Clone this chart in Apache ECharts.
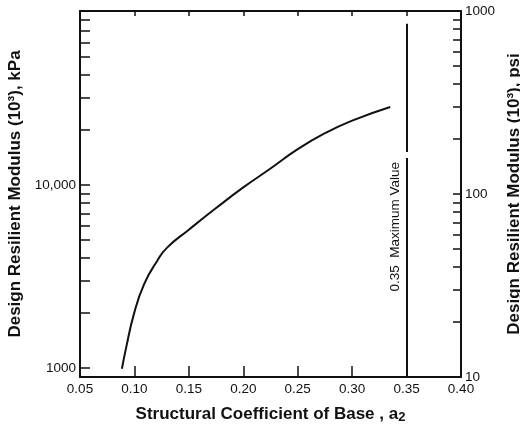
<!DOCTYPE html>
<html>
<head>
<meta charset="utf-8">
<script src="https://cdn.jsdelivr.net/npm/echarts@6/dist/echarts.min.js"></script>
<style>
  html, body { margin: 0; padding: 0; background: #fff; }
  #chart { width: 520px; height: 428px; }
</style>
</head>
<body>
<div id="chart"></div>
<script>
  // structural coefficient a2 vs design resilient modulus (kPa)
  var coef = [0.0885, 0.0925, 0.0995, 0.109, 0.121, 0.13, 0.15, 0.175, 0.20, 0.225, 0.25, 0.275, 0.30, 0.335]
  var modulus = [990, 1300, 1970, 2880, 3860, 4550, 5700, 7480, 9700, 12300, 15700, 19200, 22500, 26700]

  // 0.35 maximum value line, split where the scan shows a small break
  var maxCoef = 0.35
  var maxLineLow = [893, 14050]
  var maxLineHigh = [15150, 76000]

  var xTicks = [0.10, 0.15, 0.20, 0.25, 0.30, 0.35]
  var kpaLabels = [1000, 10000]
  var kpaTicks = [1000, 2000, 3000, 4000, 5000, 6000, 7000, 8000, 9000,
    10000, 20000, 30000, 40000, 50000, 60000, 70000, 80000]
  var psiLabels = [10, 100, 1000]
  var psiTicks = [20, 30, 40, 50, 60, 70, 80, 90, 100, 200, 300, 400, 500, 600, 700, 800, 900]

  var font = 'Liberation Sans'
  var titleSize = 17
  var chart = echarts.init(document.getElementById('chart'))
  chart.setOption({
    animation: false,
    grid: {
      left: 80,
      right: 59,
      top: 11,
      bottom: 51,
      outerBoundsMode: 'none'
    },
    xAxis: [
      {
        type: 'value',
        position: 'bottom',
        min: 0.05,
        max: 0.40,
        interval: 0.05,
        name: 'Structural Coefficient of Base , a{sub|2}',
        nameLocation: 'middle',
        nameGap: 27,
        nameTextStyle: {
          color: '#111',
          fontFamily: font,
          fontWeight: 'bold',
          fontSize: titleSize,
          rich: {
            sub: { fontSize: 13, fontWeight: 'bold', fontFamily: font, color: '#111', verticalAlign: 'bottom', padding: [7, 0, 0, 0] }
          }
        },
        splitLine: { show: false },
        axisLine: { lineStyle: { color: '#111', width: 2 } },
        axisTick: { inside: true, length: 11, customValues: xTicks, lineStyle: { color: '#111', width: 1.5 } },
        axisLabel: {
          color: '#111',
          fontFamily: font,
          fontSize: 13.5,
          margin: 5,
          formatter: function (v) { return v.toFixed(2) }
        }
      },
      {
        type: 'value',
        position: 'top',
        min: 0.05,
        max: 0.40,
        interval: 0.05,
        splitLine: { show: false },
        axisLine: { lineStyle: { color: '#111', width: 2 } },
        axisTick: { inside: true, length: 5, customValues: xTicks, lineStyle: { color: '#111', width: 1.5 } },
        axisLabel: { show: false }
      }
    ],
    yAxis: [
      {
        type: 'log',
        position: 'left',
        min: 893,
        max: 89300,
        name: 'Design Resilient Modulus (10³), kPa',
        nameLocation: 'middle',
        nameGap: 54,
        nameTextStyle: { color: '#111', fontFamily: font, fontWeight: 'bold', fontSize: titleSize },
        splitLine: { show: false },
        axisLine: { show: true, lineStyle: { color: '#111', width: 2 } },
        axisTick: { inside: true, length: 10, customValues: kpaTicks, lineStyle: { color: '#111', width: 1.5 } },
        axisLabel: {
          customValues: kpaLabels,
          color: '#111',
          fontFamily: font,
          fontSize: 13.5,
          margin: 4,
          formatter: function (v) { return v === 10000 ? '10,000' : String(v) }
        }
      },
      {
        type: 'log',
        position: 'right',
        min: 10,
        max: 1000,
        name: 'Design Resilient Modulus (10³), psi',
        nameLocation: 'middle',
        nameGap: 31,
        nameTextStyle: { color: '#111', fontFamily: font, fontWeight: 'bold', fontSize: titleSize },
        splitLine: { show: false },
        axisLine: { show: true, lineStyle: { color: '#111', width: 2 } },
        axisTick: { inside: true, length: 8, customValues: psiTicks, lineStyle: { color: '#111', width: 1.5 } },
        axisLabel: {
          customValues: psiLabels,
          color: '#111',
          fontFamily: font,
          fontSize: 13.5,
          margin: 4,
          formatter: function (v) { return String(v) }
        }
      }
    ],
    series: [
      {
        name: 'a2',
        type: 'line',
        xAxisIndex: 0,
        yAxisIndex: 0,
        smooth: true,
        showSymbol: false,
        lineStyle: { color: '#111', width: 2 },
        data: coef.map(function (c, i) { return [c, modulus[i]] }),
        markLine: {
          silent: true,
          symbol: 'none',
          lineStyle: { color: '#111', width: 2, type: 'solid' },
          label: {
            show: true,
            position: 'insideEndTop',
            distance: 4,
            color: '#111',
            fontFamily: font,
            fontSize: 13.5,
            formatter: '0.35  Maximum Value'
          },
          data: [
            [{ coord: [maxCoef, maxLineLow[0]] }, { coord: [maxCoef, maxLineLow[1]] }],
            [{ coord: [maxCoef, maxLineHigh[0]], label: { show: false } }, { coord: [maxCoef, maxLineHigh[1]] }]
          ]
        }
      }
    ]
  })
</script>
</body>
</html>
